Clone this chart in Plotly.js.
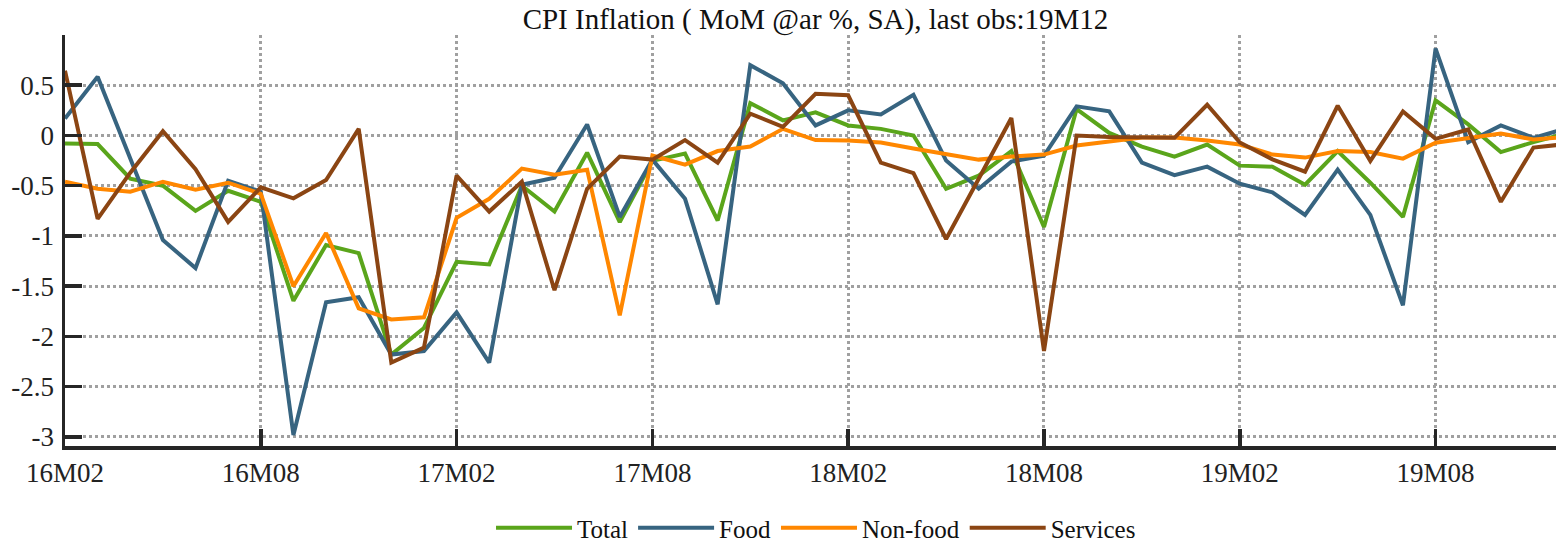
<!DOCTYPE html>
<html>
<head>
<meta charset="utf-8">
<script src="https://cdn.plot.ly/plotly-3.0.1.min.js"></script>
<style>html,body{margin:0;padding:0;overflow:hidden;background:#fff;}</style>
</head>
<body>
<div id="chart" style="width:1556px;height:551px;"></div>
<script>
const months = ["16M02","16M03","16M04","16M05","16M06","16M07","16M08","16M09","16M10","16M11","16M12",
"17M01","17M02","17M03","17M04","17M05","17M06","17M07","17M08","17M09","17M10","17M11","17M12",
"18M01","18M02","18M03","18M04","18M05","18M06","18M07","18M08","18M09","18M10","18M11","18M12",
"19M01","19M02","19M03","19M04","19M05","19M06","19M07","19M08","19M09","19M10","19M11","19M12"];

const total = [-0.08,-0.085,-0.43,-0.50,-0.75,-0.55,-0.66,-1.645,-1.09,-1.17,-2.18,
-1.915,-1.257,-1.283,-0.50,-0.757,-0.171,-0.862,-0.253,-0.18,-0.846,0.322,0.151,
0.23,0.10,0.066,0.0,-0.53,-0.40,-0.155,-0.91,0.263,0.026,-0.11,-0.21,
-0.09,-0.30,-0.31,-0.49,-0.155,-0.47,-0.81,0.35,0.11,-0.165,-0.066,0.02];

const food = [0.17,0.585,-0.23,-1.04,-1.32,-0.45,-0.56,-2.98,-1.66,-1.61,-2.18,
-2.145,-1.76,-2.26,-0.49,-0.42,0.11,-0.81,-0.24,-0.63,-1.68,0.70,0.52,
0.10,0.25,0.21,0.405,-0.25,-0.53,-0.26,-0.20,0.29,0.24,-0.27,-0.395,
-0.31,-0.48,-0.566,-0.79,-0.34,-0.79,-1.69,0.865,-0.066,0.10,-0.023,0.07];

const nonfood = [-0.46,-0.53,-0.56,-0.46,-0.54,-0.47,-0.58,-1.50,-0.97,-1.72,-1.83,
-1.81,-0.82,-0.63,-0.33,-0.39,-0.34,-1.79,-0.20,-0.29,-0.155,-0.11,0.066,
-0.046,-0.05,-0.07,-0.13,-0.19,-0.24,-0.21,-0.19,-0.10,-0.06,-0.02,-0.02,
-0.05,-0.09,-0.19,-0.22,-0.155,-0.165,-0.23,-0.072,-0.023,0.02,-0.04,-0.015];

const services = [0.645,-0.83,-0.37,0.043,-0.335,-0.86,-0.516,-0.625,-0.444,0.066,-2.26,
-2.11,-0.40,-0.757,-0.46,-1.54,-0.53,-0.21,-0.24,-0.046,-0.27,0.217,0.086,
0.415,0.40,-0.27,-0.375,-1.03,-0.43,0.174,-2.145,0.0,-0.016,-0.023,-0.023,
0.306,-0.07,-0.237,-0.36,0.296,-0.253,0.24,-0.033,0.06,-0.66,-0.12,-0.085];

const xTicks = ["16M02","16M08","17M02","17M08","18M02","18M08","19M02","19M08"];
const yTickVals = [0.5,0,-0.5,-1,-1.5,-2,-2.5,-3];
const yTickText = ["0.5","0","-0.5","-1","-1.5","-2","-2.5","-3"];

const seriesNames = ["Total","Food","Non-food","Services"];
const seriesColors = ["#5AA51B","#376480","#FF8700","#8B4513"];
const seriesData = [total, food, nonfood, services];

const traces = seriesData.map((d, k) => ({
  x: months, y: d, type: "scatter", mode: "lines", name: seriesNames[k],
  line: {color: seriesColors[k], width: 4}
}));

const fontFam = "Liberation Serif, Times New Roman, serif";
const layout = {
  width: 1556, height: 551,
  margin: {l: 65, r: 0, t: 35, b: 101},
  paper_bgcolor: "#fff", plot_bgcolor: "#fff",
  font: {family: fontFam, color: "#222", size: 25},
  title: {text: "CPI Inflation ( MoM @ar %, SA), last obs:19M12", x: 815.5/1556, xref: "container", xanchor: "center",
          y: 1 - 19/551, yref: "container", yanchor: "middle", font: {family: fontFam, size: 29, color: "#111"}},
  xaxis: {type: "category", range: [0, 45.69], tickmode: "array", tickvals: xTicks, ticktext: xTicks,
          showline: true, linecolor: "#262626", linewidth: 3.5, ticks: "inside", ticklen: 17, tickwidth: 3.5, tickcolor: "#262626",
          showgrid: true, gridcolor: "#a0a0a0", gridwidth: 3, griddash: "dot", zeroline: false,
          tickfont: {family: fontFam, size: 27, color: "#222"}, ticklabelstandoff: 0},
  yaxis: {range: [-3.09, 1.0], tickmode: "array", tickvals: yTickVals, ticktext: yTickText,
          showline: true, linecolor: "#262626", linewidth: 3.5, ticks: "inside", ticklen: 17, tickwidth: 3.5, tickcolor: "#262626",
          showgrid: true, gridcolor: "#a0a0a0", gridwidth: 3, griddash: "dot", zeroline: false,
          tickfont: {family: fontFam, size: 27, color: "#222"}, ticklabelstandoff: 2},
  showlegend: true,
  legend: {orientation: "h", x: 0.5037, xanchor: "center", y: -0.2, yanchor: "middle",
           font: {family: fontFam, size: 25, color: "#111"}, bgcolor: "rgba(0,0,0,0)", itemwidth: 76, tracegroupgap: 0}
};

Plotly.newPlot("chart", traces, layout, {displayModeBar: false, staticPlot: true});
</script>
</body>
</html>
